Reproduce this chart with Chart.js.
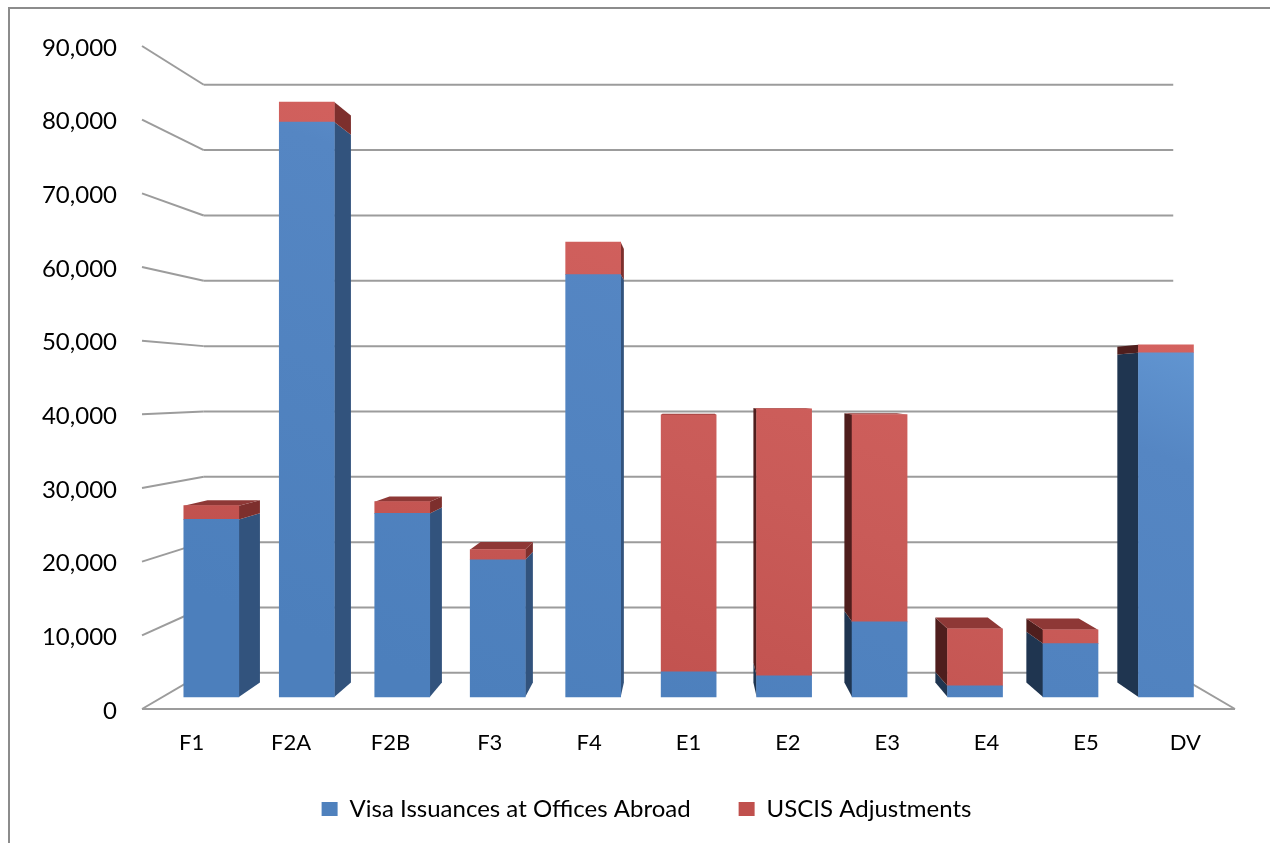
<!DOCTYPE html>
<html>
<head>
<meta charset="utf-8">
<title>Visa issuances and USCIS adjustments</title>
<script src="https://cdn.jsdelivr.net/npm/chart.js@4/dist/chart.umd.min.js"></script>
<style>
    body { margin: 0; background: #fff; overflow: hidden; }
    canvas { position: absolute; left: 0; top: 0; }
    #frame { position: absolute; left: 8px; top: 7px; right: -4px; bottom: -4px; border: 2px solid #8c8c8c; }
</style>
</head>
<body>
<div id="frame"></div>
<canvas id="chart" width="1270" height="843"></canvas>
<script>
const categories = ['F1', 'F2A', 'F2B', 'F3', 'F4', 'E1', 'E2', 'E3', 'E4', 'E5', 'DV'];
const visaIssuances = [25080, 81190, 25930, 19380, 59650, 3540, 2970, 10610, 1560, 7540, 48610];
const uscisAdjustments = [1940, 2830, 1650, 1450, 4610, 36300, 37720, 29280, 8060, 1940, 1130];
const yTicks = [0, 10000, 20000, 30000, 40000, 50000, 60000, 70000, 80000, 90000];

const FONT = 'Lato, sans-serif';
const GRID = '#9c9c9c';

// vanishing point of the 3D view, and how far the planes shrink towards it
const VP_X = 688.5;
const VP_Y = 389;
const WALL_DEPTH = 0.887;
const BAR_DEPTH = 0.953;

const project = (x, y, k) => [VP_X + k * (x - VP_X), VP_Y + k * (y - VP_Y)];

function poly(ctx, pts, color) {
    ctx.beginPath();
    pts.forEach((p, i) => i ? ctx.lineTo(p[0], p[1]) : ctx.moveTo(p[0], p[1]));
    ctx.closePath();
    ctx.fillStyle = color;
    ctx.fill();
}

function segment(ctx, a, b) {
    ctx.beginPath();
    ctx.moveTo(a[0], a[1]);
    ctx.lineTo(b[0], b[1]);
    ctx.stroke();
}

// walls and floor: every line starts on the front axis and runs back to the wall
const wallPlugin = {
    id: 'wall',
    beforeDatasetsDraw(chart) {
        const { ctx, scales: { x, y } } = chart;
        const left = x.left, right = x.right;
        ctx.save();
        ctx.strokeStyle = GRID;
        ctx.lineWidth = 2;
        yTicks.forEach(v => {
            const py = y.getPixelForValue(v);
            const backL = project(left, py, WALL_DEPTH);
            const backR = project(right, py, WALL_DEPTH);
            segment(ctx, [left, py], backL);
            segment(ctx, backL, backR);
            if (v === 0) {
                segment(ctx, backR, [right, py]);
                segment(ctx, [left, py], [right, py]);
            }
        });
        ctx.restore();
    }
};

// side and top faces of the bars, taken from the elements Chart.js laid out
const sidesPlugin = {
    id: 'sides',
    beforeDatasetsDraw(chart) {
        const { ctx } = chart;
        const shades = [
            { right: '#32537d', left: '#1f3550' },
            { right: '#7d2f2d', left: '#4f1e1d' }
        ];
        ctx.save();
        chart.data.datasets.forEach((ds, d) => {
            chart.getDatasetMeta(d).data.forEach(bar => {
                const l = bar.x - bar.width / 2;
                const r = bar.x + bar.width / 2;
                const edge = r < VP_X ? r : (l > VP_X ? l : null);
                if (edge !== null) {
                    poly(ctx, [
                        [edge, bar.y],
                        [edge, bar.base],
                        project(edge, bar.base, BAR_DEPTH),
                        project(edge, bar.y, BAR_DEPTH)
                    ], r < VP_X ? shades[d].right : shades[d].left);
                }
                // the top can only be seen below eye level
                if (d === chart.data.datasets.length - 1 && bar.y > VP_Y) {
                    poly(ctx, [
                        [l, bar.y],
                        [r, bar.y],
                        project(r, bar.y, BAR_DEPTH),
                        project(l, bar.y, BAR_DEPTH)
                    ], '#8e3836');
                }
            });
        });
        ctx.restore();
    }
};

// legend sits centred under the whole picture, not under the plot,
// and the category labels hang below their box without being clipped
const layoutFix = {
    id: 'layoutFix',
    afterLayout(chart) {
        chart.legend.left += 29;
        chart.legend.right += 29;
        chart.scales.x.bottom += 40;
    }
};

const canvas = document.getElementById('chart');
const c = canvas.getContext('2d');

// soft light on the front faces, stronger to the upper right
function sheen(from, mid, midStop, to) {
    const g = c.createLinearGradient(211, 600, 416, 52);
    g.addColorStop(0, from);
    g.addColorStop(midStop, mid);
    g.addColorStop(1, to);
    return g;
}

new Chart(canvas, {
    type: 'bar',
    plugins: [wallPlugin, sidesPlugin, layoutFix],
    data: {
        labels: categories,
        datasets: [
            {
                label: 'Visa Issuances at Offices Abroad',
                data: visaIssuances.map((v, i) => ({ x: i, y: v })),
                backgroundColor: sheen('#4c7fbc', '#5586c3', 0.8, '#6296d2'),
                xAxisID: 'xBar',
                yAxisID: 'yBar'
            },
            {
                label: 'USCIS Adjustments',
                data: uscisAdjustments.map((v, i) => ({ x: i, y: v })),
                backgroundColor: sheen('#bf4f4c', '#c95b58', 0.5, '#d4625f'),
                xAxisID: 'xBar',
                yAxisID: 'yBar'
            }
        ]
    },
    options: {
        responsive: false,
        animation: false,
        devicePixelRatio: 1,
        layout: { padding: { left: 0, right: 35, top: 46, bottom: 12 } },
        barThickness: 55,
        scales: {
            x: {
                type: 'category',
                labels: categories,
                offset: true,
                position: 'bottom',
                grid: { display: false, drawTicks: false },
                border: { display: false },
                ticks: { color: '#000', padding: 21, maxRotation: 0, font: { family: FONT, size: 22 } },
                afterFit: s => { s.height = 40; }
            },
            y: {
                min: 0,
                max: 90000,
                position: 'left',
                grid: { display: false, drawTicks: false },
                border: { display: false },
                ticks: {
                    color: '#000',
                    padding: 25,
                    stepSize: 10000,
                    autoSkip: false,
                    labelOffset: 2,
                    font: { family: FONT, size: 24 },
                    callback: v => v.toLocaleString('en-US')
                },
                afterFit: s => { s.width = 142; }
            },
            // bars stand on a plane between the front axis and the wall, so they get their own scales
            xBar: { type: 'linear', display: false, stacked: true, offset: false, min: -0.726, max: 10.723 },
            yBar: { type: 'linear', display: false, stacked: true, min: -1697, max: 91938 }
        },
        plugins: {
            tooltip: { enabled: false },
            legend: {
                position: 'bottom',
                labels: {
                    color: '#000',
                    boxWidth: 16,
                    boxHeight: 14,
                    padding: 48,
                    font: { family: FONT, size: 24 },
                    generateLabels: chart => [
                        { text: chart.data.datasets[0].label, fillStyle: '#4f81bd', lineWidth: 0, datasetIndex: 0 },
                        { text: chart.data.datasets[1].label, fillStyle: '#c0504d', lineWidth: 0, datasetIndex: 1 }
                    ]
                }
            }
        }
    }
});
</script>
</body>
</html>
